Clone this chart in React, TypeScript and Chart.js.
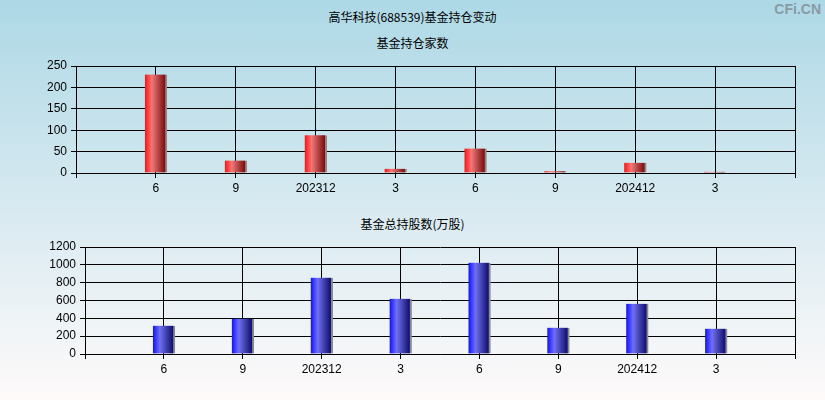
import React, { useEffect, useRef } from "react";
import { Chart, registerables } from "chart.js";

Chart.register(...registerables);

const categories = ["", "6", "9", "202312", "3", "6", "9", "202412", "3", ""];
const fundCounts = [null, 230, 29, 88, 10, 57, 4, 24, 3, null];
const fundShares = [null, 318, 396, 856, 620, 1024, 295, 564, 284, null];

const mainTitle = "高华科技(688539)基金持仓变动";
const topTitle = "基金持仓家数";
const bottomTitle = "基金总持股数(万股)";

const FONT = "'Liberation Sans', Arial, sans-serif";
const CJK = "'Noto Sans CJK SC', 'Noto Sans', sans-serif";

function makeGradient(stops: string[]) {
  return (ctx: any) => {
    const chart = ctx.chart;
    const xs = chart.scales?.x;
    if (!xs || ctx.type !== "data") return stops[0];
    const cx = xs.getPixelForValue(ctx.dataIndex);
    if (!Number.isFinite(cx)) return stops[0];
    const g = chart.ctx.createLinearGradient(cx - 11, 0, cx + 9, 0);
    g.addColorStop(0, stops[0]);
    g.addColorStop(0.35, stops[1]);
    g.addColorStop(1, stops[2]);
    return g;
  };
}

function buildConfig(
  data: (number | null)[],
  max: number,
  step: number,
  yWidth: number,
  xHeight: number,
  padTop: number,
  colors: string[]
): any {
  return {
    type: "bar",
    data: {
      labels: categories,
      datasets: [
        {
          data,
          backgroundColor: makeGradient(colors),
          borderColor: "#8a8a8a",
          borderWidth: { left: 0, right: 2, top: 0, bottom: 0 },
          borderSkipped: false,
          barThickness: 22,
        },
      ],
    },
    options: {
      animation: false,
      responsive: false,
      maintainAspectRatio: false,
      layout: { padding: { top: padTop, right: 30, left: 0, bottom: 0 } },
      plugins: { legend: { display: false }, tooltip: { enabled: false }, title: { display: false } },
      scales: {
        x: {
          type: "category",
          offset: false,
          grid: { color: "#000", lineWidth: 1, tickLength: 5, drawTicks: true, offset: false },
          border: { color: "#000", width: 1 },
          ticks: {
            color: "#000",
            font: { family: FONT, size: 12 },
            padding: 3,
            maxRotation: 0,
            autoSkip: false,
          },
          afterFit: (s: any) => {
            s.height = xHeight;
          },
        },
        y: {
          min: 0,
          max,
          grid: { color: "#000", lineWidth: 1, tickLength: 5 },
          border: { color: "#000", width: 1 },
          ticks: {
            stepSize: step,
            color: "#000",
            font: { family: FONT, size: 12 },
            padding: 4,
            callback: (v: any) => String(v),
          },
          afterFit: (s: any) => {
            s.width = yWidth;
          },
        },
      },
    },
  };
}

function ChartCanvas({ config, top }: { config: any; top: number }) {
  const ref = useRef<HTMLCanvasElement>(null);
  useEffect(() => {
    if (!ref.current) return;
    const c = new Chart(ref.current, config);
    return () => c.destroy();
  }, []);
  return (
    <canvas
      ref={ref}
      width={825}
      height={200}
      style={{ position: "absolute", left: 0, top, width: 825, height: 200 }}
    />
  );
}

export default function App() {
  const textStyle: React.CSSProperties = {
    position: "absolute",
    left: 0,
    width: 825,
    textAlign: "center",
    fontFamily: CJK,
    fontSize: 12,
    color: "#000",
    lineHeight: "14px",
  };
  return (
    <div
      style={{
        position: "fixed",
        left: 0,
        top: 0,
        width: 825,
        height: 400,
        overflow: "hidden",
        background: "linear-gradient(to bottom, #add8e6 0%, #d6e9f0 50%, #fefafa 100%)",
      }}
    >
      <div style={{ ...textStyle, top: 10 }}>{mainTitle}</div>
      <div style={{ ...textStyle, top: 36 }}>{topTitle}</div>
      <div style={{ ...textStyle, top: 217 }}>{bottomTitle}</div>
      <div
        style={{
          position: "absolute",
          right: 4,
          top: 1,
          fontFamily: "'Liberation Sans', Arial, sans-serif",
          fontWeight: "bold",
          fontSize: 14,
          color: "#8a9aa5",
        }}
      >
        CFi.CN
      </div>
      <ChartCanvas
        top={0}
        config={buildConfig(fundCounts, 250, 50, 76, 27, 66, ["#ff1010", "#f07878", "#7a1010"])}
      />
      <ChartCanvas
        top={200}
        config={buildConfig(fundShares, 1200, 200, 85, 46, 47, ["#1010ff", "#7070f0", "#10106e"])}
      />
    </div>
  );
}
